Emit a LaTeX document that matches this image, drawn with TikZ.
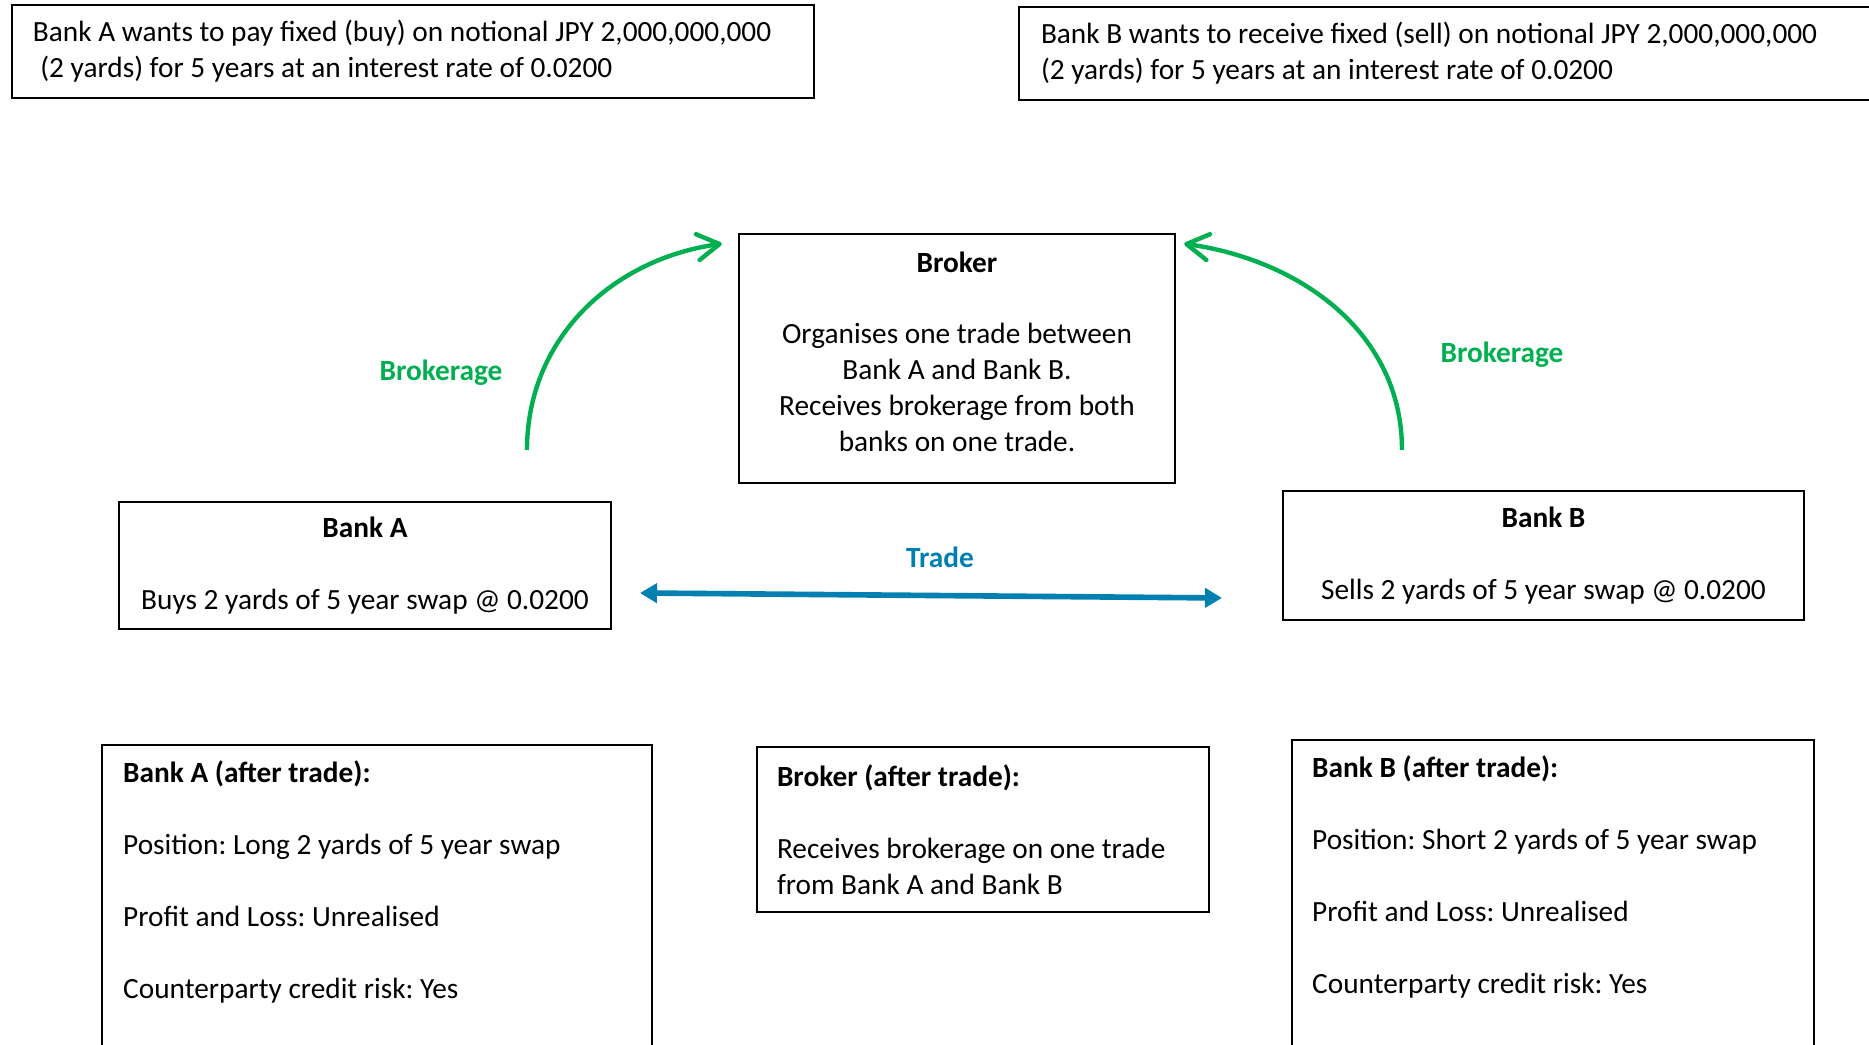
\documentclass[tikz,border=0pt]{standalone}
\usepackage{fontspec}
\setmainfont{Carlito}
\usepackage{tikz}
\usetikzlibrary{arrows.meta, positioning}
\definecolor{brkGreen}{HTML}{00B050}
\definecolor{tradeBlue}{HTML}{0080B0}
\frenchspacing

\begin{document}
\begin{tikzpicture}[font=\fontsize{8.34pt}{10.2pt}\selectfont,
  box/.style={draw=black, line width=0.7pt, inner xsep=0.21cm, inner ysep=0pt, align=flush center},
  notebox/.style={box, align=flush left, anchor=north west, inner ysep=0.16cm},
  fee/.style={brkGreen, line width=1.25pt, -{Straight Barb[length=2.2mm, width=2.6mm, round]}},
  lbl/.style={font=\fontsize{8.34pt}{10.2pt}\selectfont\bfseries}]
  \useasboundingbox (0,0) rectangle (18.69,10.45);
  % what each bank wants
  \node[box, align=flush left, text width=7.60cm, minimum height=0.93cm] (wantA) at (4.13,9.935)
    {Bank A wants to pay fixed (buy) on notional JPY 2,000,000,000\\\hspace{0.25em}(2 yards) for 5 years at an interest rate of 0.0200};
  \node[box, align=flush left, inner xsep=0.22cm, text width=8.12cm, minimum height=0.93cm] (wantB) at (14.47,9.915)
    {Bank B wants to receive fixed (sell) on notional JPY 2,000,000,000\\(2 yards) for 5 years at an interest rate of 0.0200};
  % the trade
  \node[box, minimum width=4.36cm, minimum height=2.49cm] (broker) at (9.57,6.865)
    {\textbf{Broker}\\[0.36cm]Organises one trade between\\Bank A and Bank B.\\Receives brokerage from both\\banks on one trade.\\[-0.22cm]\mbox{}};
  \node[box, minimum width=4.92cm, minimum height=1.27cm] (bankA) at (3.65,4.795)
    {\textbf{Bank A}\\[0.36cm]Buys 2 yards of 5 year swap @ 0.0200};
  \node[box, minimum width=5.21cm, minimum height=1.29cm] (bankB) at (15.435,4.895)
    {\textbf{Bank B}\\[0.36cm]Sells 2 yards of 5 year swap @ 0.0200};

  \coordinate (feeA) at (5.27,5.95);
  \coordinate (feeB) at (14.02,5.95);
  \draw[fee] (feeA) to[out=90, in=188] ([xshift=-1.6mm, yshift=-1.1mm]broker.north west);
  \draw[fee] (feeB) to[out=90, in=-8] ([xshift=0.8mm, yshift=-1.1mm]broker.north east);
  \node[lbl, brkGreen] (feeLblA) at (4.41,6.72) {Brokerage};
  \node[lbl, brkGreen] (feeLblB) at (15.02,6.90) {Brokerage};

  \coordinate (tradeL) at (6.40,4.52);
  \coordinate (tradeR) at (12.22,4.47);
  \draw[tradeBlue, line width=1.6pt, {Triangle[length=1.7mm, width=1.9mm]}-{Triangle[length=1.7mm, width=1.9mm]}] (tradeL) -- (tradeR);
  \node[lbl, tradeBlue] (tradeLbl) at (9.40,4.88) {Trade};

  % after the trade
  \node[notebox, text width=5.08cm] (afterA) at (1.01,3.01)
    {\textbf{Bank A (after trade):}\\[0.36cm]Position: Long 2 yards of 5 year swap\\[0.36cm]Profit and Loss: Unrealised\\[0.36cm]Counterparty credit risk: Yes\\[0.6cm]~};
  \node[box, align=flush left, inner xsep=0.20cm, text width=4.12cm, minimum height=1.65cm] (afterBrk) at (9.83,2.155)
    {\textbf{Broker (after trade):}\\[0.36cm]Receives brokerage on one trade\\from Bank A and Bank B};
  \node[notebox, inner xsep=0.20cm, text width=4.82cm] (afterB) at (12.91,3.06)
    {\textbf{Bank B (after trade):}\\[0.36cm]Position: Short 2 yards of 5 year swap\\[0.36cm]Profit and Loss: Unrealised\\[0.36cm]Counterparty credit risk: Yes\\[0.6cm]~};
\end{tikzpicture}
\end{document}
